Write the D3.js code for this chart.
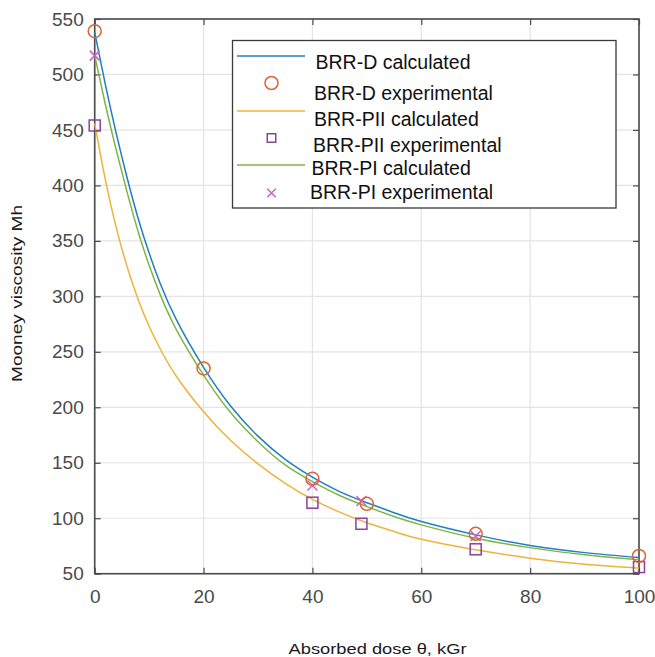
<!DOCTYPE html>
<html>
<head>
<meta charset="utf-8">
<script src="https://cdn.jsdelivr.net/npm/d3@7"></script>
<style>
  html, body { margin: 0; padding: 0; background: #fff; }
  svg { display: block; font-family: "Liberation Sans", Arial, sans-serif; }
</style>
</head>
<body>
<svg id="chart" width="655" height="657"></svg>
<script>
// Absorbed dose grid (kGr) for the calculated curves
const doseGrid = [0, 2, 4, 6, 8, 10, 12, 15, 20, 25, 30, 35, 40, 45, 50, 55, 60, 70, 80, 90, 100];

// Calculated Mooney viscosity curves
const calcD   = [538, 490, 446, 406, 370, 339, 312, 279, 236, 201, 174, 153, 137, 124, 114, 105, 97, 85, 75.5, 69, 64.5];
const calcPII = [456, 404, 361, 326, 297, 273, 253, 228, 196, 170, 149, 131.5, 117, 105.5, 96, 88, 81, 71.5, 64, 58.5, 55];
const calcPI  = [517, 472, 431, 393, 358, 328, 302, 270, 229, 195, 169, 148, 133, 120.5, 110.5, 101.5, 94, 82, 73.5, 67, 62.5];

// Experimental measurements
const doseD   = [0, 20, 40, 50, 70, 100];
const expD    = [539, 235, 135.5, 113, 86, 66];
const dosePII = [0, 40, 49, 70, 100];
const expPII  = [454, 114, 95, 72, 56];
const dosePI  = [0, 40, 49, 70];
const expPI   = [517, 129.5, 115.5, 84];

// Axis ticks
const xTicks = [0, 20, 40, 60, 80, 100];
const yTicks = [50, 100, 150, 200, 250, 300, 350, 400, 450, 500, 550];

const seriesNames = [
  "BRR-D calculated", "BRR-D experimental",
  "BRR-PII calculated", "BRR-PII experimental",
  "BRR-PI calculated", "BRR-PI experimental"
];

const colors = {
  blue: "#1f7fc4",
  orange: "#dd6234",
  yellow: "#eeb43a",
  purple: "#8a429a",
  green: "#80b543",
  magenta: "#cc62c6"
};

const svg = d3.select("#chart");
const plotLeft = 94.7, plotRight = 639, plotTop = 19, plotBottom = 573.7;

const x = d3.scaleLinear().domain([0, 100]).range([plotLeft, plotRight]);
const y = d3.scaleLinear().domain([50, 550]).range([plotBottom, plotTop]);

// grid
const grid = svg.append("g");
grid.selectAll(".gx").data(xTicks).join("line")
  .attr("x1", d => x(d)).attr("x2", d => x(d))
  .attr("y1", plotTop).attr("y2", plotBottom)
  .attr("stroke", "#e4e4e4").attr("stroke-width", 1.2);
grid.selectAll(".gy").data(yTicks).join("line")
  .attr("x1", plotLeft).attr("x2", plotRight)
  .attr("y1", d => y(d)).attr("y2", d => y(d))
  .attr("stroke", "#e4e4e4").attr("stroke-width", 1.2);

// axes with inward ticks on all four sides
const axisColor = "#4a4a4a";
function styleAxis(g) {
  g.select(".domain").remove();
  g.selectAll(".tick line").attr("stroke", axisColor).attr("stroke-width", 1.2);
  g.selectAll("text").attr("fill", "#4a4a4a").style("font-size", "19px")
    .style("font-family", "'Liberation Sans', Arial, sans-serif");
}
const xAxis = svg.append("g").attr("transform", `translate(0,${plotBottom})`)
  .call(d3.axisBottom(x).tickValues(xTicks).tickSizeInner(-6).tickSizeOuter(0).tickPadding(16));
styleAxis(xAxis);
const yAxis = svg.append("g").attr("transform", `translate(${plotLeft},0)`)
  .call(d3.axisLeft(y).tickValues(yTicks).tickSizeInner(-6).tickSizeOuter(0).tickPadding(11));
styleAxis(yAxis);
const xAxisTop = svg.append("g").attr("transform", `translate(0,${plotTop})`)
  .call(d3.axisTop(x).tickValues(xTicks).tickSizeInner(-6).tickSizeOuter(0).tickFormat(""));
styleAxis(xAxisTop);
const yAxisRight = svg.append("g").attr("transform", `translate(${plotRight},0)`)
  .call(d3.axisRight(y).tickValues(yTicks).tickSizeInner(-6).tickSizeOuter(0).tickFormat(""));
styleAxis(yAxisRight);

// frame
svg.append("rect")
  .attr("x", plotLeft).attr("y", plotTop)
  .attr("width", plotRight - plotLeft).attr("height", plotBottom - plotTop)
  .attr("fill", "none").attr("stroke", axisColor).attr("stroke-width", 1.6);

// calculated curves
const line = d3.line()
  .x((d, i) => x(doseGrid[i]))
  .y(d => y(d))
  .curve(d3.curveNatural);

const curves = [
  { data: calcD, color: colors.blue },
  { data: calcPI, color: colors.green },
  { data: calcPII, color: colors.yellow }
];
svg.append("g").selectAll("path").data(curves).join("path")
  .attr("d", d => line(d.data))
  .attr("fill", "none")
  .attr("stroke", d => d.color)
  .attr("stroke-width", 1.5);

// marker drawing helpers
function drawCircle(g, cx, cy, r) {
  g.append("circle").attr("cx", cx).attr("cy", cy).attr("r", r)
    .attr("fill", "none").attr("stroke", colors.orange).attr("stroke-width", 1.5);
}
function drawSquare(g, cx, cy, s) {
  g.append("rect").attr("x", cx - s / 2).attr("y", cy - s / 2)
    .attr("width", s).attr("height", s)
    .attr("fill", "none").attr("stroke", colors.purple).attr("stroke-width", 1.5);
}
function drawCross(g, cx, cy, s) {
  g.append("path")
    .attr("d", `M${cx - s / 2},${cy - s / 2}L${cx + s / 2},${cy + s / 2}M${cx - s / 2},${cy + s / 2}L${cx + s / 2},${cy - s / 2}`)
    .attr("fill", "none").attr("stroke", colors.magenta).attr("stroke-width", 1.5);
}

// experimental markers
const marks = svg.append("g");
expPII.forEach((v, i) => drawSquare(marks, x(dosePII[i]), y(v), 11));
expPI.forEach((v, i) => drawCross(marks, x(dosePI[i]), y(v), 10));
expD.forEach((v, i) => drawCircle(marks, x(doseD[i]), y(v), 6.5));

// legend
const lg = svg.append("g");
lg.append("rect").attr("x", 232.5).attr("y", 40.5).attr("width", 383.5).attr("height", 167.5)
  .attr("fill", "#fff").attr("stroke", "#3a3a3a").attr("stroke-width", 1.3);

const legendRows = [
  { kind: "line", color: colors.blue, my: 56, ty: 62, tx: 315.5 },
  { kind: "circle", my: 83, ty: 93, tx: 314 },
  { kind: "line", color: colors.yellow, my: 111, ty: 119, tx: 314 },
  { kind: "square", my: 138, ty: 144.5, tx: 313 },
  { kind: "line", color: colors.green, my: 165, ty: 167.5, tx: 311.5 },
  { kind: "cross", my: 193, ty: 192, tx: 310 }
];
legendRows.forEach((r, i) => {
  if (r.kind === "line") {
    lg.append("line").attr("x1", 237).attr("x2", 305).attr("y1", r.my).attr("y2", r.my)
      .attr("stroke", r.color).attr("stroke-width", 1.5);
  } else if (r.kind === "circle") {
    drawCircle(lg, 271.5, r.my, 6.5);
  } else if (r.kind === "square") {
    drawSquare(lg, 271.5, r.my, 8.5);
  } else {
    drawCross(lg, 271.5, r.my, 8.5);
  }
  lg.append("text").attr("x", r.tx).attr("y", r.ty)
    .attr("dy", "0.36em")
    .attr("fill", "#111")
    .style("font-size", "19.5px")
    .text(seriesNames[i]);
});

// axis titles
svg.append("text")
  .attr("x", 377.5).attr("y", 648).attr("dy", "0.36em")
  .attr("text-anchor", "middle")
  .attr("fill", "#1a1a1a")
  .style("font-size", "15.5px")
  .attr("textLength", 178).attr("lengthAdjust", "spacingAndGlyphs")
  .text("Absorbed dose θ, kGr");

svg.append("text")
  .attr("transform", "translate(16,293.5) rotate(-90)")
  .attr("dy", "0.36em")
  .attr("text-anchor", "middle")
  .attr("fill", "#1a1a1a")
  .style("font-size", "15.5px")
  .attr("textLength", 177).attr("lengthAdjust", "spacingAndGlyphs")
  .text("Mooney viscosity  Mh");
</script>
</body>
</html>
